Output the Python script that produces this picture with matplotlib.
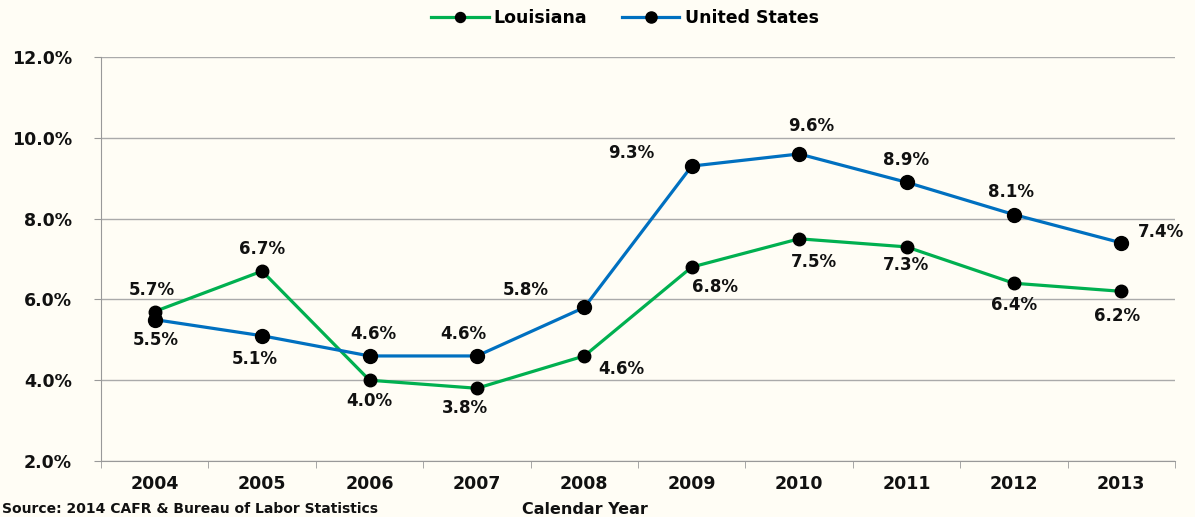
import matplotlib.pyplot as plt
import numpy as np

years = ["2004", "2005", "2006", "2007", "2008", "2009", "2010", "2011", "2012", "2013"]
louisiana = [5.7, 6.7, 4.0, 3.8, 4.6, 6.8, 7.5, 7.3, 6.4, 6.2]
united_states = [5.5, 5.1, 4.6, 4.6, 5.8, 9.3, 9.6, 8.9, 8.1, 7.4]

# label offsets in pixels (dx, dy), dy positive = up
la_off = [(-3, 22), (0, 22), (0, -21), (-12, -20), (37, -13),
          (23, -20), (15, -23), (0, -18), (0, -22), (-4, -25)]
us_off = [(1, -20), (-7, -23), (4, 22), (-14, 22), (-59, 17),
          (-60, 13), (12, 28), (0, 22), (-3, 23), (40, 11)]

bg = "#FFFDF5"
green = "#00B050"
blue = "#0070C0"
ink = "#111111"
plt.rcParams["font.family"] = ["DejaVu Sans"]

fig = plt.figure(figsize=(11.95, 5.17), dpi=100, facecolor=bg)
ax = fig.add_axes([101 / 1195, 1 - 461 / 517, 1074 / 1195, 404 / 517])
ax.set_facecolor(bg)

x = np.arange(len(years))
ax.plot(x, louisiana, color=green, lw=2.3, marker="o", ms=9,
        mfc="black", mec="black", label="Louisiana", zorder=3)
ax.plot(x, united_states, color=blue, lw=2.3, marker="o", ms=10,
        mfc="black", mec="black", label="United States", zorder=3)

def put_labels(vals, offs):
    for i, (v, (dx, dy)) in enumerate(zip(vals, offs)):
        ax.annotate(f"{v:.1f}%", (x[i], v), xytext=(dx * 0.72, dy * 0.72),
                    textcoords="offset points", ha="center", va="center",
                    fontsize=12, fontweight="bold", color=ink, zorder=4)

put_labels(louisiana, la_off)
put_labels(united_states, us_off)

ax.set_ylim(2, 12)
ax.set_xlim(-0.5, 9.5)
yt = np.arange(2, 12.1, 2)
ax.set_yticks(yt)
ax.set_yticklabels([f"{t:.1f}%" for t in yt], fontsize=12.5, fontweight="bold", color=ink)
ax.set_xticks(x)
ax.set_xticklabels(years, fontsize=12.5, fontweight="bold", color=ink)
ax.set_xticks(np.arange(-0.5, 9.6, 1), minor=True)
ax.tick_params(axis="x", which="major", length=0, pad=10)
ax.tick_params(axis="x", which="minor", length=5, color="#999999")
ax.tick_params(axis="y", length=5, color="#999999", pad=16)
ax.grid(axis="y", color="#AAAAAA", lw=1)
for s in ["top", "right"]:
    ax.spines[s].set_visible(False)
for s in ["left", "bottom"]:
    ax.spines[s].set_color("#999999")

leg = fig.legend(loc="upper center", bbox_to_anchor=(0.523, 1.012), ncol=2,
                 frameon=False, handlelength=3.3, handletextpad=0.3, columnspacing=2.0,
                 markerscale=0.8, prop={"weight": "bold", "size": 12.5})

fig.text(585 / 1195, 1 - 509 / 517, "Calendar Year", ha="center", va="center",
         fontsize=11.5, fontweight="bold", color=ink)
fig.text(2 / 1195, 1 - 509 / 517, "Source: 2014 CAFR & Bureau of Labor Statistics",
         ha="left", va="center", fontsize=10, fontweight="bold", color=ink)

fig.savefig("out.png", dpi=100, facecolor=bg)
